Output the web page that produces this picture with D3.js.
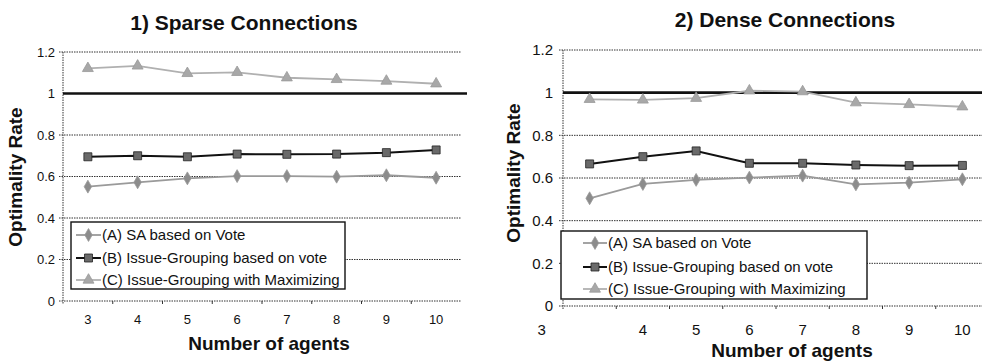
<!DOCTYPE html>
<html lang="en">
<head>
  <meta charset="utf-8">
  <title>Optimality Rate</title>
  <script src="https://d3js.org/d3.v7.min.js"></script>
  <style>
    body { margin: 0; background: #fff; }
    svg text { font-family: "Liberation Sans", Arial, sans-serif; fill: #111; }
  </style>
</head>
<body>
  <div id="chart"></div>

  <script type="text/javascript">
    "use strict"

    // dados
    var agents = [3, 4, 5, 6, 7, 8, 9, 10];
    var yTicks = [0, 0.2, 0.4, 0.6, 0.8, 1, 1.2];
    var referenceValue = 1;
    var seriesNames = ["(A) SA based on Vote", "(B) Issue-Grouping based on vote", "(C) Issue-Grouping with Maximizing"];
    var panelTitles = ["1) Sparse Connections", "2) Dense Connections"];

    var sparseA = [0.551, 0.572, 0.591, 0.602, 0.602, 0.599, 0.606, 0.594];
    var sparseB = [0.695, 0.700, 0.695, 0.708, 0.707, 0.708, 0.715, 0.728];
    var sparseC = [1.121, 1.133, 1.097, 1.102, 1.076, 1.068, 1.060, 1.047];

    var denseA = [0.505, 0.572, 0.591, 0.602, 0.611, 0.570, 0.578, 0.594];
    var denseB = [0.666, 0.700, 0.727, 0.669, 0.669, 0.661, 0.658, 0.659];
    var denseC = [0.969, 0.966, 0.974, 1.009, 1.005, 0.953, 0.945, 0.934];

    var estilos = [
      {stroke: "#9a9a9a", fill: "#8c8c8c", marker: d3.symbolDiamond, size: 48},
      {stroke: "#111", fill: "#6a6a6a", marker: d3.symbolSquare, size: 64},
      {stroke: "#b0b0b0", fill: "#a8a8a8", marker: d3.symbolTriangle, size: 52}
    ];

    var svg = d3.select("#chart").append("svg")
        .attr("width", 982).attr("height", 364);

    function desenhaPainel(cfg, series) {
      var g = svg.append("g");

      var x = d3.scaleBand().domain(agents).range([cfg.x0, cfg.x1]);
      var y = d3.scaleLinear().domain([0, 1.2]).range([cfg.yBottom, cfg.yTop]);

      // grade pontilhada
      g.selectAll("line.grid")
          .data(yTicks.filter(d => d !== referenceValue))
          .enter().append("line")
          .attr("x1", cfg.x0 - 4).attr("x2", cfg.gridEnd)
          .attr("y1", d => y(d)).attr("y2", d => y(d))
          .style("stroke", "#333").style("stroke-width", 1)
          .style("stroke-dasharray", "1.5,1");

      // eixo y pontilhado
      g.append("line")
          .attr("x1", cfg.x0).attr("x2", cfg.x0)
          .attr("y1", y(1.2)).attr("y2", y(0) + 3)
          .style("stroke", "#333").style("stroke-dasharray", "1.5,1");

      // linha de referencia em 1
      g.append("line")
          .attr("x1", cfg.x0).attr("x2", cfg.refEnd)
          .attr("y1", y(referenceValue)).attr("y2", y(referenceValue))
          .style("stroke", "#111").style("stroke-width", 2.6);

      var yAxis = g.append("g")
          .attr("transform", "translate(" + cfg.x0 + ",0)")
          .call(d3.axisLeft(y).tickValues(yTicks).tickFormat(d => String(d)).tickSize(0).tickPadding(cfg.yPad));
      yAxis.select(".domain").remove();
      yAxis.selectAll("text").style("font-size", cfg.tickFont + "px");

      // marcas do eixo x nas bordas das bandas
      g.selectAll("line.xtick")
          .data(agents.slice(1))
          .enter().append("line")
          .attr("x1", d => x(d)).attr("x2", d => x(d))
          .attr("y1", y(0)).attr("y2", y(0) + 3)
          .style("stroke", "#333");

      var xAxis = g.append("g")
          .attr("transform", "translate(0," + y(0) + ")")
          .call(d3.axisBottom(x).tickSize(0).tickPadding(cfg.xPad));
      xAxis.select(".domain").remove();
      xAxis.selectAll("text").style("font-size", cfg.tickFont + "px");
      if (cfg.firstLabelShift) {
        xAxis.select(".tick text").attr("dx", cfg.firstLabelShift);
      }

      var linha = d3.line()
          .x((d, i) => x(agents[i]) + x.bandwidth() / 2)
          .y(d => y(d));

      series.forEach(function (vals, s) {
        var est = estilos[s];
        g.append("path")
            .datum(vals)
            .attr("d", linha)
            .style("fill", "none")
            .style("stroke", est.stroke)
            .style("stroke-width", s === 1 ? 2 : 1.8);
        g.selectAll("path.m" + s)
            .data(vals)
            .enter().append("path")
            .attr("d", d3.symbol().type(est.marker).size(est.size))
            .attr("transform", (d, i) => "translate(" + (x(agents[i]) + x.bandwidth() / 2) + "," + y(d) + ")")
            .style("fill", est.fill)
            .style("stroke", s === 1 ? "#222" : "#999")
            .style("stroke-width", 0.8);
      });

      // legenda
      var leg = g.append("g");
      leg.append("rect")
          .attr("x", cfg.legX).attr("y", cfg.legY)
          .attr("width", cfg.legW).attr("height", cfg.legH)
          .style("fill", "#fff").style("stroke", "#111").style("stroke-width", 1.4);
      seriesNames.forEach(function (nome, s) {
        var est = estilos[s];
        var ly = cfg.legRows[s];
        leg.append("line")
            .attr("x1", cfg.legLine[0]).attr("x2", cfg.legLine[1])
            .attr("y1", ly).attr("y2", ly)
            .style("stroke", est.stroke).style("stroke-width", s === 1 ? 2 : 1.8);
        leg.append("path")
            .attr("d", d3.symbol().type(est.marker).size(est.size))
            .attr("transform", "translate(" + (cfg.legLine[0] + cfg.legLine[1]) / 2 + "," + ly + ")")
            .style("fill", est.fill)
            .style("stroke", s === 1 ? "#222" : "#999")
            .style("stroke-width", 0.8);
        leg.append("text")
            .attr("x", cfg.legLine[1] + 1).attr("y", ly + 5)
            .style("font-size", "15px")
            .text(nome);
      });

      // titulos
      g.append("text")
          .attr("x", cfg.titleX).attr("y", cfg.titleY)
          .attr("text-anchor", "middle")
          .style("font-size", "21px").style("font-weight", "bold")
          .text(cfg.title);
      g.append("text")
          .attr("x", cfg.xTitleX).attr("y", cfg.xTitleY)
          .attr("text-anchor", "middle")
          .style("font-size", "19px").style("font-weight", "bold")
          .text("Number of agents");
      g.append("text")
          .attr("transform", "translate(" + cfg.yTitleX + "," + cfg.yTitleY + ") rotate(-90)")
          .attr("text-anchor", "middle")
          .style("font-size", "19px").style("font-weight", "bold")
          .text("Optimality Rate");
    }

    desenhaPainel({
      x0: 63, x1: 461, yTop: 52, yBottom: 301, gridEnd: 461, refEnd: 467,
      tickFont: 13, yPad: 8, xPad: 14,
      legX: 71, legY: 222, legW: 274, legH: 67, legRows: [235, 258, 280], legLine: [76, 101],
      title: panelTitles[0], titleX: 244, titleY: 30,
      xTitleX: 269, xTitleY: 350, yTitleX: 22, yTitleY: 177
    }, [sparseA, sparseB, sparseC]);

    desenhaPainel({
      x0: 563, x1: 989, yTop: 50, yBottom: 306, gridEnd: 982, refEnd: 982,
      tickFont: 15, yPad: 10, xPad: 18, firstLabelShift: -48,
      legX: 561, legY: 231, legW: 306, legH: 68, legRows: [243, 267, 289], legLine: [583, 607],
      title: panelTitles[1], titleX: 785, titleY: 27,
      xTitleX: 302 + 490, xTitleY: 357, yTitleX: 520, yTitleY: 173
    }, [denseA, denseB, denseC]);
  </script>
</body>
</html>
